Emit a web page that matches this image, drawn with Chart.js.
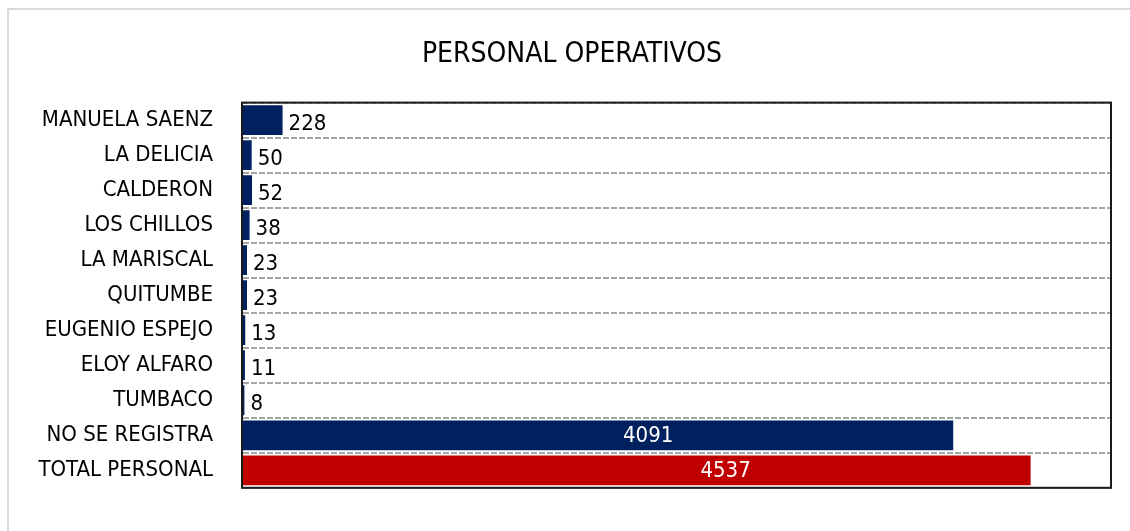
<!DOCTYPE html>
<html>
<head>
<meta charset="utf-8">
<script src="https://cdn.jsdelivr.net/npm/chart.js@4/dist/chart.umd.min.js"></script>
<style>
  html, body { margin: 0; padding: 0; background: #fff; }
  body { width: 1130px; height: 531px; position: relative; overflow: hidden; }
  .frame {
    position: absolute; left: 7px; top: 8px; width: 1200px; height: 600px;
    border-left: 2px solid #d9d9d9; border-top: 2px solid #d9d9d9;
  }
  #wrap { position: absolute; left: 0; top: 0; width: 1130px; height: 531px; }
</style>
</head>
<body>
<div class="frame"></div>
<div id="wrap"><canvas id="chart"></canvas></div>
<script>
const FONT = "'Liberation Sans Narrow', 'Arial Narrow', 'DejaVu Sans Condensed', sans-serif";

const categories = [
  'MANUELA SAENZ', 'LA DELICIA', 'CALDERON', 'LOS CHILLOS', 'LA MARISCAL',
  'QUITUMBE', 'EUGENIO ESPEJO', 'ELOY ALFARO', 'TUMBACO', 'NO SE REGISTRA',
  'TOTAL PERSONAL'
];
const personal = [228, 50, 52, 38, 23, 23, 13, 11, 8, 4091, 4537];
const xTicks = [0, 5000];

const NAVY = '#002060';
const RED = '#c00000';

// value labels: outside for short bars, white and inside for the long ones
const valueLabels = {
  id: 'valueLabels',
  afterDatasetsDraw(chart) {
    const { ctx } = chart;
    const meta = chart.getDatasetMeta(0);
    ctx.save();
    ctx.font = `22px ${FONT}`;
    ctx.textBaseline = 'middle';
    meta.data.forEach((bar, i) => {
      const v = personal[i];
      if (v > 1000) {
        ctx.fillStyle = '#fff';
        ctx.textAlign = 'center';
        ctx.fillText(String(v), bar.x - 305, bar.y + 1);
      } else {
        ctx.fillStyle = '#000';
        ctx.textAlign = 'left';
        ctx.fillText(String(v), bar.x + 6, bar.y + 4);
      }
    });
    ctx.restore();
  }
};

// dark frame around the plot area
const plotFrame = {
  id: 'plotFrame',
  afterDraw(chart) {
    const { ctx, chartArea: a } = chart;
    ctx.save();
    ctx.strokeStyle = '#1a1a1a';
    ctx.lineWidth = 2;
    ctx.strokeRect(a.left - 1, a.top, a.right - a.left + 1, a.bottom - a.top);
    ctx.restore();
  }
};

new Chart(document.getElementById('chart'), {
  type: 'bar',
  data: {
    labels: categories,
    datasets: [{
      data: personal,
      backgroundColor: personal.map((v, i) => i === personal.length - 1 ? RED : NAVY),
      borderWidth: 0,
      barPercentage: 0.85,
      categoryPercentage: 1
    }]
  },
  options: {
    indexAxis: 'y',
    responsive: true,
    maintainAspectRatio: false,
    animation: false,
    layout: { padding: { top: 0, right: 19, bottom: 24, left: 33 } },
    plugins: {
      legend: { display: false },
      tooltip: { enabled: false },
      title: {
        display: true,
        text: 'PERSONAL OPERATIVOS',
        color: '#000',
        font: { family: FONT, size: 28, weight: 'normal' },
        padding: { top: 38, bottom: 31 }
      }
    },
    scales: {
      x: {
        display: false,
        min: xTicks[0],
        max: xTicks[1]
      },
      y: {
        afterFit(scale) { scale.width = 210; },
        border: { display: false, dash: [6, 2] },
        grid: {
          color: '#a6a6a6',
          lineWidth: 2,
          drawTicks: false,
          offset: true
        },
        ticks: {
          color: '#000',
          padding: 30,
          font: { family: FONT, size: 22 }
        }
      }
    }
  },
  plugins: [valueLabels, plotFrame]
});
</script>
</body>
</html>
